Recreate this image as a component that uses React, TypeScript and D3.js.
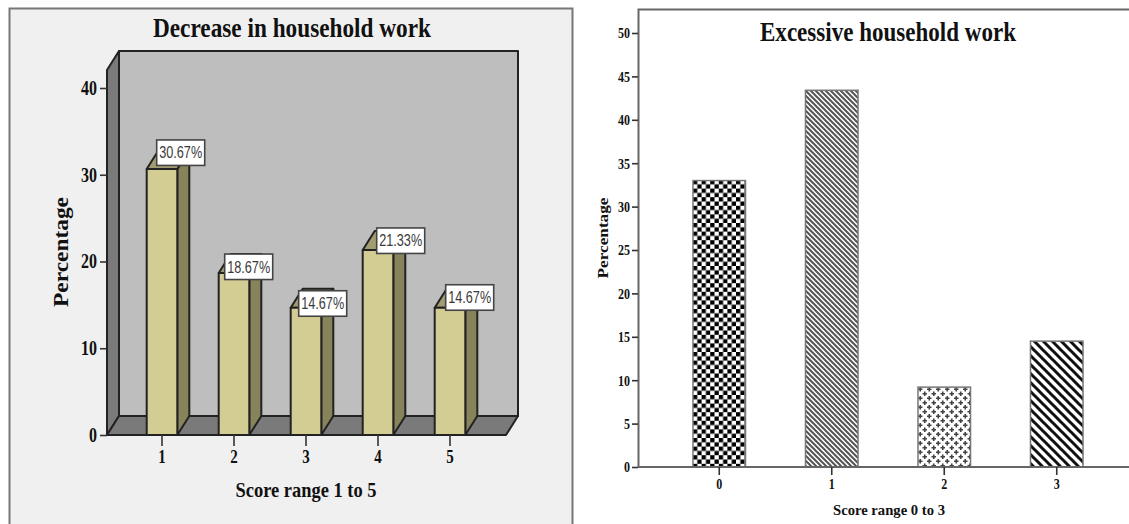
import * as d3 from 'd3'
import { useEffect, useRef } from 'react'

const leftCategories = ['1', '2', '3', '4', '5']
const leftValues = [30.67, 18.67, 14.67, 21.33, 14.67]
const leftTicks = [0, 10, 20, 30, 40]

const rightCategories = ['0', '1', '2', '3']
const rightValues = [33, 43.4, 9.2, 14.5]
const rightPatterns = ['checker', 'thinStripe', 'cross', 'wideStripe']
const rightTicks = [0, 5, 10, 15, 20, 25, 30, 35, 40, 45, 50]

const SERIF = '"Liberation Serif", serif'
const SANS = '"Liberation Sans", Arial, sans-serif'

// label box offsets from the top left of each bar, they were dragged by hand in the original
const labelOffsets = [
    [10, -29],
    [6, -19],
    [8, -17],
    [14, -22],
    [11, -23],
]

const DEPTH_X = 12
const DEPTH_Y = 19

export default function App() {
    const svgRef = useRef<SVGSVGElement>(null)

    useEffect(() => {
        if (!svgRef.current) return

        const svg = d3.select(svgRef.current)
        svg.selectAll('*').remove()

        const defs = svg.append('defs')

        const checker = defs
            .append('pattern')
            .attr('id', 'checker')
            .attr('patternUnits', 'userSpaceOnUse')
            .attr('x', 693)
            .attr('y', 180)
            .attr('width', 8.6)
            .attr('height', 8.6)
        checker.append('rect').attr('width', 8.6).attr('height', 8.6).attr('fill', '#fff')
        checker.append('rect').attr('width', 4.3).attr('height', 4.3).attr('fill', '#000')
        checker.append('rect').attr('x', 4.3).attr('y', 4.3).attr('width', 4.3).attr('height', 4.3).attr('fill', '#000')

        const stripe = (id: string, size: number, sw: number, color: string) => {
            const p = defs
                .append('pattern')
                .attr('id', id)
                .attr('patternUnits', 'userSpaceOnUse')
                .attr('width', size)
                .attr('height', size)
            p.append('rect').attr('width', size).attr('height', size).attr('fill', '#fff')
            // falls to the right, the extra two lines fill the tile corners
            p.append('path')
                .attr('d', `M0,0L${size},${size}M${-size},0L${size},${2 * size}M0,${-size}L${2 * size},${size}`)
                .attr('stroke', color)
                .attr('stroke-width', sw)
        }
        stripe('thinStripe', 5, 2, '#555')
        stripe('wideStripe', 9, 3, '#111')

        const cross = defs
            .append('pattern')
            .attr('id', 'cross')
            .attr('patternUnits', 'userSpaceOnUse')
            .attr('width', 9)
            .attr('height', 9)
        cross.append('rect').attr('width', 9).attr('height', 9).attr('fill', '#fff')
        cross
            .append('path')
            .attr('d', 'M2.25,0V4.5M0,2.25H4.5M6.75,4.5V9M4.5,6.75H9')
            .attr('stroke', '#444')
            .attr('stroke-width', 1.6)

        // Left chart
        svg.append('rect')
            .attr('x', 9.5)
            .attr('y', 8.5)
            .attr('width', 563)
            .attr('height', 525)
            .attr('fill', '#f0f0f0')
            .attr('stroke', '#777')
            .attr('stroke-width', 2)

        const yLeft = d3.scaleLinear().domain([0, 40]).range([435, 88])
        const xLeft = d3.scaleBand().domain(leftCategories).range([126, 486]).paddingInner(0.575).paddingOuter(0.2875)

        const top = 70
        const floorY = yLeft(0)
        const x0 = 107
        const x1 = 506
        const ink = '#222'

        const poly = (pts: number[][], fill: string, sw = 2) =>
            svg
                .append('path')
                .attr('d', (d3.line()(pts as [number, number][]) as string) + 'Z')
                .attr('fill', fill)
                .attr('stroke', ink)
                .attr('stroke-width', sw)
                .attr('stroke-linejoin', 'round')

        // back wall, side wall, floor
        poly(
            [
                [x0 + DEPTH_X, top - DEPTH_Y],
                [x1 + DEPTH_X, top - DEPTH_Y],
                [x1 + DEPTH_X, floorY - DEPTH_Y],
                [x0 + DEPTH_X, floorY - DEPTH_Y],
            ],
            '#bebebe'
        )
        poly(
            [
                [x0, top],
                [x0 + DEPTH_X, top - DEPTH_Y],
                [x0 + DEPTH_X, floorY - DEPTH_Y],
                [x0, floorY],
            ],
            '#7a7a7a'
        )
        poly(
            [
                [x0, floorY],
                [x0 + DEPTH_X, floorY - DEPTH_Y],
                [x1 + DEPTH_X, floorY - DEPTH_Y],
                [x1, floorY],
            ],
            '#7a7a7a'
        )

        leftCategories.forEach((c, i) => {
            const bx = xLeft(c) as number
            const bw = xLeft.bandwidth()
            const by = yLeft(leftValues[i])
            poly(
                [
                    [bx + bw, by],
                    [bx + bw + DEPTH_X, by - DEPTH_Y],
                    [bx + bw + DEPTH_X, floorY - DEPTH_Y],
                    [bx + bw, floorY],
                ],
                '#87835a'
            )
            poly(
                [
                    [bx, by],
                    [bx + DEPTH_X, by - DEPTH_Y],
                    [bx + bw + DEPTH_X, by - DEPTH_Y],
                    [bx + bw, by],
                ],
                '#a19c72'
            )
            poly(
                [
                    [bx, by],
                    [bx + bw, by],
                    [bx + bw, floorY],
                    [bx, floorY],
                ],
                '#d3cd94'
            )
        })

        leftCategories.forEach((c, i) => {
            const bx = xLeft(c) as number
            const by = yLeft(leftValues[i])
            const [dx, dy] = labelOffsets[i]
            svg.append('rect')
                .attr('x', bx + dx)
                .attr('y', by + dy)
                .attr('width', 48)
                .attr('height', 25.5)
                .attr('fill', '#fff')
                .attr('stroke', '#444')
                .attr('stroke-width', 1.6)
            svg.append('text')
                .attr('x', bx + dx + 24)
                .attr('y', by + dy + 18.5)
                .attr('text-anchor', 'middle')
                .attr('font-family', SANS)
                .attr('font-size', 16)
                .attr('textLength', 43)
                .attr('lengthAdjust', 'spacingAndGlyphs')
                .attr('fill', '#3a3a3a')
                .text(`${leftValues[i].toFixed(2)}%`)
        })

        // tick digits in the source are narrower than the font, so squeeze them per digit
        const styleAxis = (g: any, size: number, digit: number) => {
            g.select('.domain').remove()
            g.selectAll('line').attr('stroke', '#333').attr('stroke-width', 1.6)
            g.selectAll('text')
                .attr('font-family', SERIF)
                .attr('font-weight', 'bold')
                .attr('font-size', size)
                .attr('fill', '#111')
                .attr('lengthAdjust', 'spacingAndGlyphs')
                .attr('textLength', function (this: any) {
                    return this.textContent.length * digit
                })
        }

        svg.append('g')
            .attr('transform', `translate(${x0},0)`)
            .call(d3.axisLeft(yLeft).tickValues(leftTicks).tickSize(7).tickPadding(3))
            .call((g: any) => styleAxis(g, 20, 8))

        svg.append('g')
            .attr('transform', `translate(0,${floorY})`)
            .call(d3.axisBottom(xLeft).tickSize(11).tickPadding(4))
            .call((g: any) => styleAxis(g, 19, 7.5))

        const title = (x: number, y: number, s: string, size: number, len: number) =>
            svg
                .append('text')
                .attr('x', x)
                .attr('y', y)
                .attr('text-anchor', 'middle')
                .attr('font-family', SERIF)
                .attr('font-weight', 'bold')
                .attr('font-size', size)
                .attr('textLength', len)
                .attr('lengthAdjust', 'spacingAndGlyphs')
                .attr('fill', '#111')
                .text(s)

        title(292, 36.5, 'Decrease in household work', 28, 278)
        title(306, 497, 'Score range 1 to 5', 21, 141)
        title(0, 0, 'Percentage', 21, 110).attr('transform', 'translate(68,252) rotate(-90)')

        // Right chart
        const yRight = d3.scaleLinear().domain([0, 50]).range([467, 33])
        const xRight = d3.scaleBand().domain(rightCategories).range([663, 1113]).paddingInner(0.533).paddingOuter(0.2665)

        rightCategories.forEach((c, i) => {
            svg.append('rect')
                .attr('x', xRight(c) as number)
                .attr('y', yRight(rightValues[i]))
                .attr('width', xRight.bandwidth())
                .attr('height', yRight(0) - yRight(rightValues[i]))
                .attr('fill', `url(#${rightPatterns[i]})`)
                .attr('stroke', '#777')
                .attr('stroke-width', 1.5)
        })

        svg.append('path')
            .attr('d', 'M1129,9.5H638.5V467H1129')
            .attr('fill', 'none')
            .attr('stroke', '#666')
            .attr('stroke-width', 2)

        svg.append('g')
            .attr('transform', 'translate(638,0)')
            .call(d3.axisLeft(yRight).tickValues(rightTicks).tickSize(6).tickPadding(2))
            .call((g: any) => styleAxis(g, 15, 6))

        svg.append('g')
            .attr('transform', `translate(0,${yRight(0)})`)
            .call(d3.axisBottom(xRight).tickSize(8).tickPadding(3))
            .call((g: any) => styleAxis(g, 15, 6))

        title(888, 41, 'Excessive household work', 28, 256)
        title(889, 515, 'Score range 0 to 3', 15, 112)
        title(0, 0, 'Percentage', 15, 81).attr('transform', 'translate(608,238) rotate(-90)')
    }, [])

    return (
        <svg
            ref={svgRef}
            width={1129}
            height={524}
            style={{ position: 'absolute', left: 0, top: 0, display: 'block' }}
        />
    )
}
